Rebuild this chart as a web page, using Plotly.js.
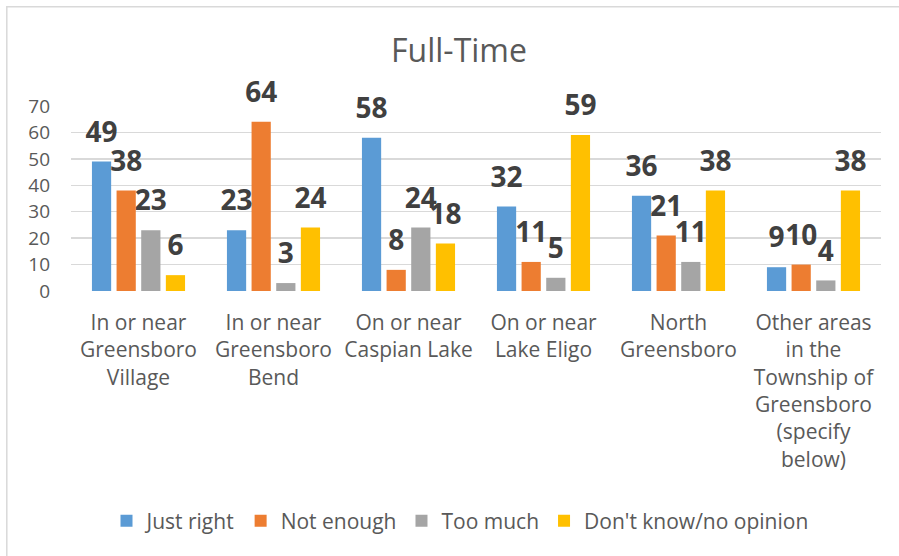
<!DOCTYPE html>
<html>
<head>
<meta charset="utf-8">
<script src="https://cdn.plot.ly/plotly-3.0.1.min.js"></script>
<style>
html,body{margin:0;padding:0;background:#fff;}
#chart{width:899px;height:556px;}
</style>
</head>
<body>
<div id="chart"></div>
<script>
var categories = [
  "In or near Greensboro Village",
  "In or near Greensboro Bend",
  "On or near Caspian Lake",
  "On or near Lake Eligo",
  "North Greensboro",
  "Other areas in the Township of Greensboro (specify below)"
];
var tickLabels = [
  "In or near<br>Greensboro<br>Village",
  "In or near<br>Greensboro<br>Bend",
  "On or near<br>Caspian Lake",
  "On or near<br>Lake Eligo",
  "North<br>Greensboro",
  "Other areas<br>in the<br>Township of<br>Greensboro<br>(specify<br>below)"
];
var seriesNames = ["Just right", "Not enough", "Too much", "Don't know/no opinion"];
var justRight  = [49, 23, 58, 32, 36, 9];
var notEnough  = [38, 64, 8, 11, 21, 10];
var tooMuch    = [23, 3, 24, 5, 11, 4];
var dontKnow   = [6, 24, 18, 59, 38, 38];
var yTicks = [0, 10, 20, 30, 40, 50, 60, 70];

var seriesValues = [justRight, notEnough, tooMuch, dontKnow];
var colors = ["#5B9BD5", "#ED7D31", "#A5A5A5", "#FFC000"];
var FONT = "Open Sans, Noto Sans, sans-serif";

var traces = [];
seriesValues.forEach(function (vals, i) {
  traces.push({
    type: "bar",
    name: seriesNames[i],
    x: categories,
    y: vals,
    marker: {color: colors[i]},
    hoverinfo: "skip"
  });
});
// data labels, grouped like the bars, lifted above each bar
seriesValues.forEach(function (vals, i) {
  traces.push({
    type: "scatter",
    mode: "markers+text",
    x: categories,
    y: vals,
    text: vals.map(String),
    textposition: "top center",
    textfont: {family: FONT, size: 28, color: "#404040", weight: "bold"},
    marker: {size: 19, opacity: 0, color: colors[i]},
    showlegend: false,
    hoverinfo: "skip",
    cliponaxis: false
  });
});

var layout = {
  width: 899,
  height: 556,
  paper_bgcolor: "#ffffff",
  plot_bgcolor: "#ffffff",
  margin: {l: 71, r: 18, t: 106, b: 265},
  barmode: "group",
  bargap: 0.27,
  bargroupgap: 0.22,
  scattermode: "group",
  scattergap: 0.27,
  title: {
    text: "Full-Time",
    font: {family: FONT, size: 32, color: "#595959"},
    xref: "container", x: 459 / 899, xanchor: "center",
    yref: "container", y: 1 - 51 / 556, yanchor: "middle"
  },
  xaxis: {
    tickmode: "array",
    tickvals: categories,
    ticktext: tickLabels,
    tickfont: {family: FONT, size: 21, color: "#595959"},
    ticks: "",
    showgrid: false,
    showline: false,
    zeroline: false,
    ticklabelstandoff: 17,
    fixedrange: true
  },
  yaxis: {
    range: [0, 70],
    tickmode: "array",
    tickvals: yTicks,
    ticktext: yTicks.map(String),
    tickfont: {family: FONT, size: 19, color: "#595959"},
    gridcolor: "#d9d9d9",
    gridwidth: 1.3,
    zeroline: false,
    showline: false,
    ticks: "",
    ticklabelstandoff: 20,
    fixedrange: true
  },
  showlegend: true,
  legend: {
    orientation: "h",
    xref: "container", x: 460 / 899, xanchor: "center",
    yref: "container", y: 1 - 521 / 556, yanchor: "middle",
    font: {family: FONT, size: 21, color: "#595959"},
    itemwidth: 30,
    traceorder: "normal"
  },
  shapes: [{
    type: "rect", xref: "paper", yref: "paper",
    x0: (6.8 - 71) / 810, x1: 1.3,
    y0: -2, y1: (291 - 6.8) / 185,
    line: {color: "#d9d9d9", width: 1.5},
    fillcolor: "rgba(0,0,0,0)",
    layer: "below"
  }]
};

Plotly.newPlot("chart", traces, layout, {displayModeBar: false, staticPlot: true});
</script>
</body>
</html>
